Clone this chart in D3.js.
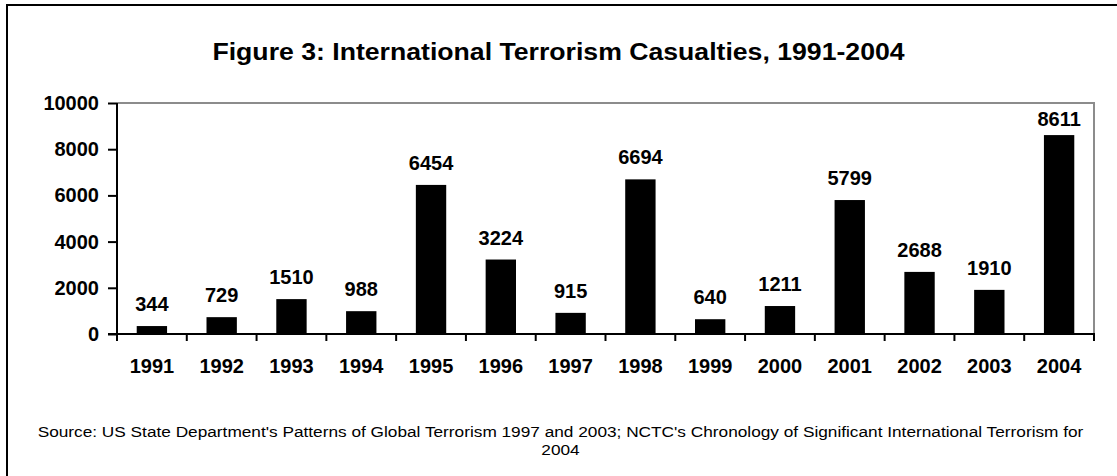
<!DOCTYPE html>
<html>
<head>
<meta charset="utf-8">
<script src="https://cdn.jsdelivr.net/npm/d3@7"></script>
<style>
  html, body { margin: 0; padding: 0; background: #fff; }
  svg { display: block; font-family: "Liberation Sans", Arial, Helvetica, sans-serif; }
</style>
</head>
<body>
<svg id="chart" width="1117" height="476"></svg>
<script>
// Casualties from international terrorism by year
const years = ["1991", "1992", "1993", "1994", "1995", "1996", "1997",
               "1998", "1999", "2000", "2001", "2002", "2003", "2004"];
const casualties = [344, 729, 1510, 988, 6454, 3224, 915,
                    6694, 640, 1211, 5799, 2688, 1910, 8611];
const yTicks = [0, 2000, 4000, 6000, 8000, 10000];

const titleText = "Figure 3: International Terrorism Casualties, 1991-2004";
const sourceLines = [
  "Source: US State Department's Patterns of Global Terrorism 1997 and 2003; NCTC's Chronology of Significant International Terrorism for",
  "2004"
];

const W = 1117, H = 476;
const plot = { left: 117, right: 1094, top: 103, bottom: 334 };
const labelSize = 20;

const svg = d3.select("#chart");

// frame lines on the top and left edges
svg.append("line").attr("x1", 6).attr("x2", W).attr("y1", 5).attr("y2", 5)
  .attr("stroke", "#000").attr("stroke-width", 2);
svg.append("line").attr("x1", 7).attr("x2", 7).attr("y1", 4).attr("y2", H)
  .attr("stroke", "#000").attr("stroke-width", 2);

// title, slightly widened
svg.append("text")
  .attr("transform", `translate(${W / 2},60) scale(1.11,1)`)
  .attr("text-anchor", "middle")
  .attr("font-size", 24).attr("font-weight", "bold")
  .text(titleText);

const x = d3.scaleBand().domain(years)
  .range([plot.left, plot.right]).paddingInner(0.565).paddingOuter(0.2825);
const y = d3.scaleLinear().domain([0, 10000]).range([plot.bottom, plot.top]);

// plot-area border (top and right in grey)
svg.append("path")
  .attr("d", `M${plot.left},${plot.top}H${plot.right}V${plot.bottom}`)
  .attr("fill", "none").attr("stroke", "#8c8c8c").attr("stroke-width", 2);

// bars
svg.append("g").selectAll("rect").data(years).join("rect")
  .attr("x", d => x(d))
  .attr("width", x.bandwidth())
  .attr("y", (d, i) => y(casualties[i]))
  .attr("height", (d, i) => y(0) - y(casualties[i]))
  .attr("fill", "#000");

// value labels, kept clear of the plot's top edge
svg.append("g").selectAll("text").data(years).join("text")
  .attr("x", d => x(d) + x.bandwidth() / 2)
  .attr("y", (d, i) => Math.max(y(casualties[i]) - 15, plot.top + 23))
  .attr("text-anchor", "middle")
  .attr("font-size", labelSize).attr("font-weight", "bold")
  .text((d, i) => casualties[i]);

// y axis
const yAxis = d3.axisLeft(y).tickValues(yTicks).tickSize(9).tickPadding(9)
  .tickFormat(d3.format("d"));
const gy = svg.append("g").attr("transform", `translate(${plot.left},0)`).call(yAxis);
gy.select(".domain").attr("stroke", "#000").attr("stroke-width", 2)
  .attr("d", `M0,${plot.top}V${plot.bottom}`);
gy.selectAll(".tick line").attr("stroke", "#000").attr("stroke-width", 2);
gy.selectAll(".tick text").attr("font-size", labelSize).attr("font-weight", "bold")
  .attr("font-family", "Liberation Sans, Arial, sans-serif").attr("fill", "#000");

// x axis: baseline with ticks at category boundaries
const boundaries = d3.range(years.length + 1)
  .map(i => plot.left + i * (plot.right - plot.left) / years.length);
svg.append("line")
  .attr("x1", plot.left - 9).attr("x2", plot.right + 1)
  .attr("y1", plot.bottom).attr("y2", plot.bottom)
  .attr("stroke", "#000").attr("stroke-width", 2);
svg.append("g").selectAll("line").data(boundaries).join("line")
  .attr("x1", d => d).attr("x2", d => d)
  .attr("y1", plot.bottom).attr("y2", plot.bottom + 7)
  .attr("stroke", "#000").attr("stroke-width", 2);
svg.append("g").selectAll("text").data(years).join("text")
  .attr("x", d => x(d) + x.bandwidth() / 2)
  .attr("y", 373)
  .attr("text-anchor", "middle")
  .attr("font-size", labelSize).attr("font-weight", "bold")
  .text(d => d);

// source note
svg.append("g").selectAll("text").data(sourceLines).join("text")
  .attr("transform", (d, i) => `translate(${W / 2 + 2},${437 + i * 18}) scale(1.15,1)`)
  .attr("text-anchor", "middle")
  .attr("font-size", 15)
  .text(d => d);
</script>
</body>
</html>
